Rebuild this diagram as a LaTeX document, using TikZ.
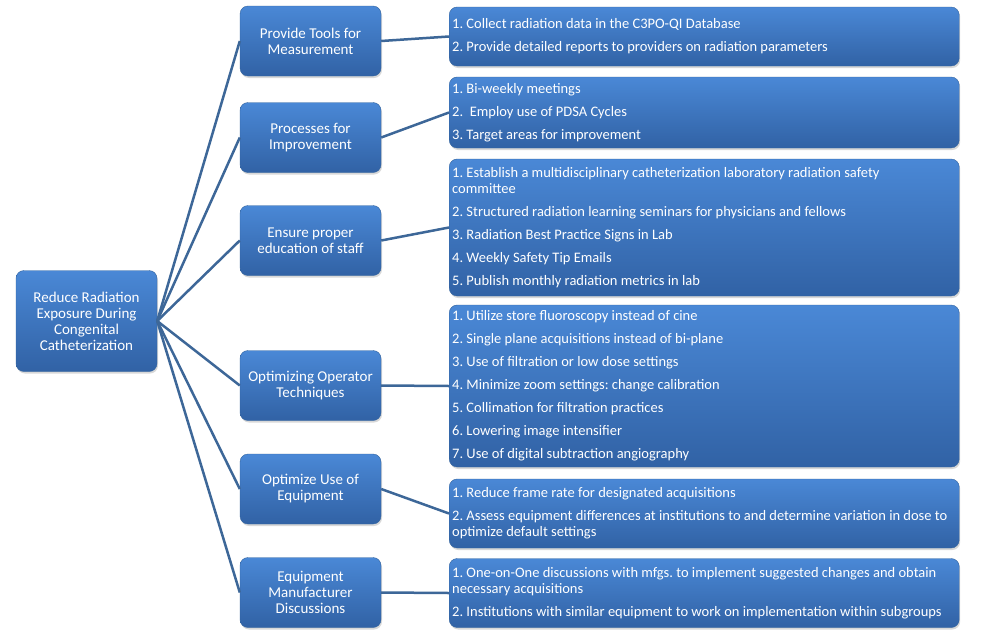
\documentclass[tikz,border=0pt]{standalone}
\usepackage{fontspec}
\setmainfont{Carlito}
\usetikzlibrary{shadows}
\definecolor{boxtop}{HTML}{4A88D6}
\definecolor{boxbot}{HTML}{3162A5}
\definecolor{boxline}{HTML}{33649F}
\definecolor{linkblue}{HTML}{3D6798}

\begin{document}
\begin{tikzpicture}[x=1pt, y=-1pt,
  box/.style={rounded corners=8pt, draw=boxline, top color=boxtop, bottom color=boxbot,
    text=white, drop shadow={opacity=0.3, shadow xshift=1pt, shadow yshift=-2pt}},
  goal/.style={box, minimum width=141pt, minimum height=70pt, align=flush center, inner sep=2pt,
    font=\fontsize{15}{16}\selectfont},
  task/.style={box, anchor=west, minimum width=510pt, text width=504pt, align=flush left, inner xsep=3pt,
    font=\fontsize{14.5}{16}\selectfont\frenchspacing},
  link/.style={draw=linkblue, line width=2.5pt}]
  \fill[white] (0,0) rectangle (982,640);
  \useasboundingbox (0,0) rectangle (982,640);
  % ------------------------------------------------------------------ the aim
  \node[goal, minimum height=101pt] (aim) at (86.5,321)
    {Reduce Radiation\\Exposure During\\Congenital\\Catheterization};
  % ------------------------------------------------------------------ the six drivers
  \node[goal] (tools)    at (310.5,41)    {Provide Tools for\\Measurement};
  \node[goal] (process)  at (310.5,137.5) {Processes for\\Improvement};
  \node[goal] (educ)     at (310.5,240.5) {Ensure proper\\education of staff};
  \node[goal] (operator) at (310.5,385.5) {Optimizing Operator\\Techniques};
  \node[goal] (equip)    at (310.5,489)   {Optimize Use of\\Equipment};
  \node[goal] (manuf)    at (310.5,592.5) {Equipment\\Manufacturer\\Discussions};
  % ------------------------------------------------------------------ the interventions
  \node[task, minimum height=59pt] (collect) at (449,36.5)
    {1. Collect radiation data in the C3PO-QI Database\\[7pt]
     2. Provide detailed reports to providers on radiation parameters};
  \node[task, minimum height=71pt] (meet) at (449,112.5)
    {1. Bi-weekly meetings\\[7pt]
     2.\ \ Employ use of PDSA Cycles\\[7pt]
     3. Target areas for improvement};
  \node[task, minimum height=137pt] (committee) at (449,227.5)
    {1. Establish a multidisciplinary catheterization laboratory radiation safety\\
     committee\\[7pt]
     2. Structured radiation learning seminars for physicians and fellows\\[7pt]
     3. Radiation Best Practice Signs in Lab\\[7pt]
     4. Weekly Safety Tip Emails\\[7pt]
     5. Publish monthly radiation metrics in lab};
  \node[task, minimum height=162pt] (fluoro) at (449,386)
    {1. Utilize store fluoroscopy instead of cine\\[7pt]
     2. Single plane acquisitions instead of bi-plane\\[7pt]
     3. Use of filtration or low dose settings\\[7pt]
     4. Minimize zoom settings: change calibration\\[7pt]
     5. Collimation for filtration practices\\[7pt]
     6. Lowering image intensifier\\[7pt]
     7. Use of digital subtraction angiography};
  \node[task, minimum height=69pt] (frame) at (449,513.5)
    {1. Reduce frame rate for designated acquisitions\\[7pt]
     2. Assess equipment differences at institutions to and determine variation in dose to\\
     optimize default settings};
  \node[task, minimum height=69pt] (mfgs) at (449,593)
    {1. One-on-One discussions with mfgs. to implement suggested changes and obtain\\
     necessary acquisitions\\[7pt]
     2. Institutions with similar equipment to work on implementation within subgroups};
  % ------------------------------------------------------------------ connectors
  \foreach \g/\t in {tools/collect, process/meet, educ/committee,
                     operator/fluoro, equip/frame, manuf/mfgs}
    \draw[link] (aim.east) -- (\g.west) (\g.east) -- (\t.west);
\end{tikzpicture}
\end{document}
